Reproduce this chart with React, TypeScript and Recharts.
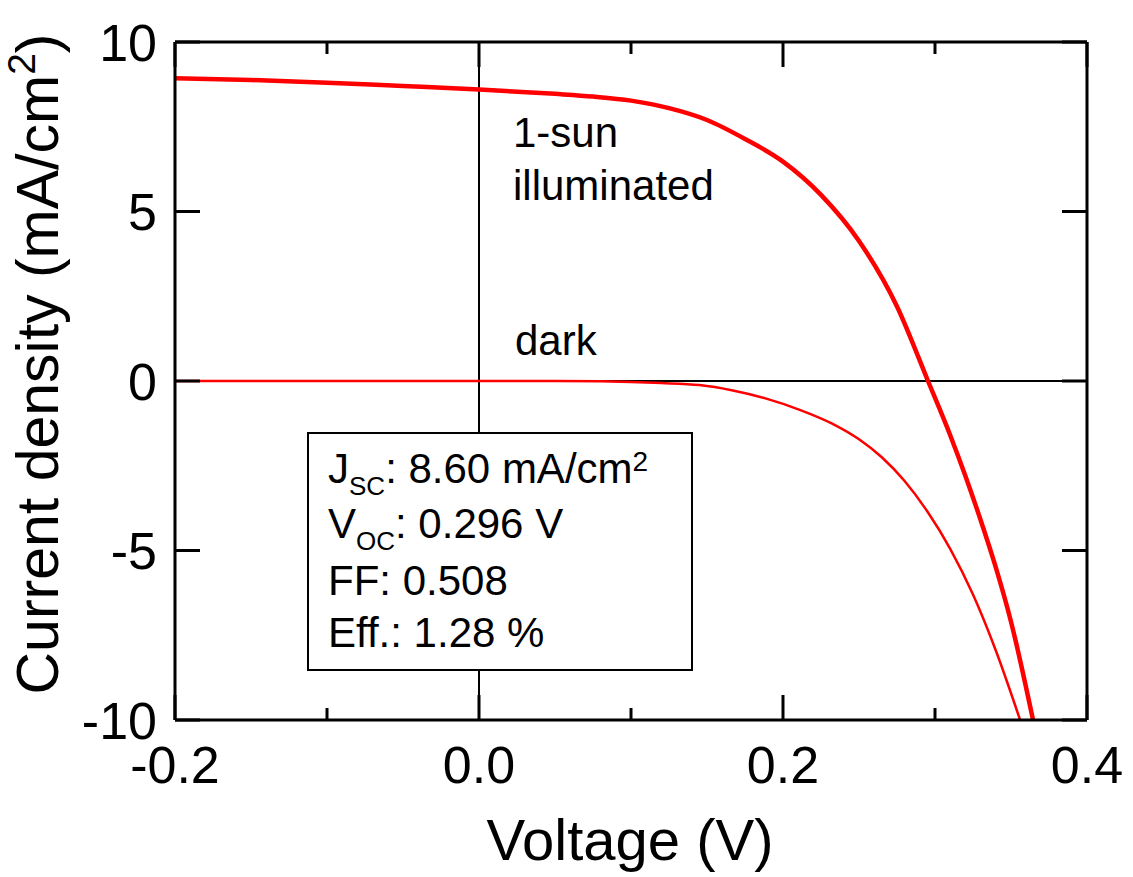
import React from 'react';
import { LineChart, Line, XAxis, YAxis, ReferenceLine } from 'recharts';

const FONT = '"Liberation Sans", Arial, Helvetica, sans-serif';

// voltage (V) / current density (mA/cm2)
const litVoltage = [-0.2, -0.15, -0.1, -0.05, 0, 0.05, 0.075, 0.1, 0.125, 0.15, 0.175, 0.2, 0.225, 0.25, 0.275, 0.2954, 0.31, 0.32, 0.33, 0.34, 0.35, 0.3645];
const litCurrent = [8.93, 8.88, 8.8, 8.7, 8.6, 8.47, 8.39, 8.27, 8.05, 7.7, 7.14, 6.47, 5.49, 4.13, 2.2, 0, -1.6, -2.8, -4.1, -5.5, -7.1, -10];

const darkVoltage = [-0.2, -0.1, 0, 0.05, 0.08, 0.1, 0.12, 0.145, 0.167, 0.189, 0.211, 0.232, 0.25, 0.265, 0.28, 0.295, 0.31, 0.325, 0.34, 0.356];
const darkCurrent = [0, 0, 0, 0, -0.01, -0.03, -0.06, -0.12, -0.28, -0.52, -0.85, -1.25, -1.72, -2.25, -2.95, -3.85, -4.95, -6.3, -7.95, -10];

const xTicks = [-0.2, -0.1, 0, 0.1, 0.2, 0.3, 0.4];
const yTicks = [-10, -5, 0, 5, 10];

// result box edges, in current density units
const boxTopJ = -1.53;
const boxBottomJ = -8.53;

const litData = litVoltage.map((v, i) => ({ v, j: litCurrent[i] }));
const darkData = darkVoltage.map((v, i) => ({ v, j: darkCurrent[i] }));

const PLOT_TOP = 42;
const PLOT_BOTTOM = 720;
const PLOT_LEFT = 175;
const PLOT_RIGHT = 1087;

const isMajorX = (v: number) => Math.abs(Math.round(v * 10)) % 2 === 0;

const BottomTick = (props: any) => {
  const { x, payload } = props;
  const major = isMajorX(payload.value);
  return (
    <g>
      <line x1={x} x2={x} y1={PLOT_BOTTOM} y2={PLOT_BOTTOM - (major ? 25 : 12)} stroke="#000" strokeWidth={3} />
      {major && (
        <text x={x} y={783} textAnchor="middle" fontSize={52} fontFamily={FONT} fill="#000">
          {payload.value.toFixed(1)}
        </text>
      )}
    </g>
  );
};

const TopTick = (props: any) => {
  const { x, payload } = props;
  const major = isMajorX(payload.value);
  return <line x1={x} x2={x} y1={PLOT_TOP} y2={PLOT_TOP + (major ? 25 : 12)} stroke="#000" strokeWidth={3} />;
};

const LeftTick = (props: any) => {
  const { y, payload } = props;
  return (
    <g>
      <line x1={PLOT_LEFT} x2={PLOT_LEFT + 25} y1={y} y2={y} stroke="#000" strokeWidth={3} />
      <text x={157} y={y} dy="0.36em" textAnchor="end" fontSize={52} fontFamily={FONT} fill="#000">
        {payload.value}
      </text>
    </g>
  );
};

const RightTick = (props: any) => {
  const { y } = props;
  return <line x1={PLOT_RIGHT} x2={PLOT_RIGHT - 25} y1={y} y2={y} stroke="#000" strokeWidth={3} />;
};

const ResultBox = () => {
  const x = 308;
  const y = 433;
  const tx = x + 20;
  return (
    <g fontFamily={FONT} fontSize={42} fill="#000">
      <rect x={x} y={y} width={384} height={237} fill="#fff" stroke="#000" strokeWidth={2} />
      <text x={tx} y={y + 50}>
        J<tspan fontSize={26} dy={12}>SC</tspan>
        <tspan dy={-12}>: 8.60 mA/cm</tspan>
        <tspan fontSize={28} dy={-12}>2</tspan>
      </text>
      <text x={tx} y={y + 105}>
        V<tspan fontSize={26} dy={12}>OC</tspan>
        <tspan dy={-12}>: 0.296 V</tspan>
      </text>
      <text x={tx} y={y + 162}>FF: 0.508</text>
      <text x={tx} y={y + 214}>Eff.: 1.28 %</text>
    </g>
  );
};

export default function App() {
  return (
    <div style={{ position: 'absolute', left: 0, top: 0, background: '#fff' }}>
      <LineChart width={1133} height={877} margin={{ top: PLOT_TOP - 1, right: 1133 - PLOT_RIGHT - 1, bottom: 0, left: 0 }}>
        <XAxis
          xAxisId="b"
          type="number"
          dataKey="v"
          domain={[-0.2, 0.4]}
          ticks={xTicks}
          interval={0}
          allowDataOverflow
          height={877 - PLOT_BOTTOM}
          axisLine={{ stroke: '#000', strokeWidth: 3 }}
          tickLine={false}
          tick={(p: any) => <BottomTick {...p} />}
        />
        <XAxis
          xAxisId="t"
          orientation="top"
          type="number"
          dataKey="v"
          domain={[-0.2, 0.4]}
          ticks={xTicks}
          interval={0}
          allowDataOverflow
          height={1}
          axisLine={{ stroke: '#000', strokeWidth: 3 }}
          tickLine={false}
          tick={(p: any) => <TopTick {...p} />}
        />
        <YAxis
          yAxisId="l"
          type="number"
          domain={[-10, 10]}
          ticks={yTicks}
          interval={0}
          allowDataOverflow
          width={PLOT_LEFT}
          axisLine={{ stroke: '#000', strokeWidth: 3 }}
          tickLine={false}
          tick={(p: any) => <LeftTick {...p} />}
        />
        <YAxis
          yAxisId="r"
          orientation="right"
          type="number"
          domain={[-10, 10]}
          ticks={yTicks}
          interval={0}
          allowDataOverflow
          width={1}
          axisLine={{ stroke: '#000', strokeWidth: 3 }}
          tickLine={false}
          tick={(p: any) => <RightTick {...p} />}
        />
        <ReferenceLine xAxisId="b" yAxisId="l" segment={[{ x: 0, y: 10 }, { x: 0, y: boxTopJ }]} stroke="#000" strokeWidth={2} />
        <ReferenceLine xAxisId="b" yAxisId="l" segment={[{ x: 0, y: boxBottomJ }, { x: 0, y: -10 }]} stroke="#000" strokeWidth={2} />
        <ReferenceLine xAxisId="b" yAxisId="l" y={0} stroke="#000" strokeWidth={2} />
        <Line
          xAxisId="b"
          yAxisId="l"
          data={darkData}
          dataKey="j"
          type="monotone"
          stroke="#ff0000"
          strokeWidth={2.5}
          dot={false}
          isAnimationActive={false}
        />
        <Line
          xAxisId="b"
          yAxisId="l"
          data={litData}
          dataKey="j"
          type="monotone"
          stroke="#ff0000"
          strokeWidth={4.5}
          dot={false}
          isAnimationActive={false}
        />
        <ResultBox />
        <text x={513} y={147} fontSize={42} fontFamily={FONT} fill="#000">1-sun</text>
        <text x={513} y={200} fontSize={42} fontFamily={FONT} fill="#000">illuminated</text>
        <text x={515} y={355} fontSize={42} fontFamily={FONT} fill="#000">dark</text>
        <text x={630} y={860} textAnchor="middle" fontSize={58} fontFamily={FONT} fill="#000">Voltage (V)</text>
        <text x={58} y={364} transform="rotate(-90, 58, 364)" textAnchor="middle" fontSize={59} fontFamily={FONT} fill="#000">
          Current density (mA/cm<tspan fontSize={39} dy={-23}>2</tspan>
          <tspan dy={23}>)</tspan>
        </text>
      </LineChart>
    </div>
  );
}
